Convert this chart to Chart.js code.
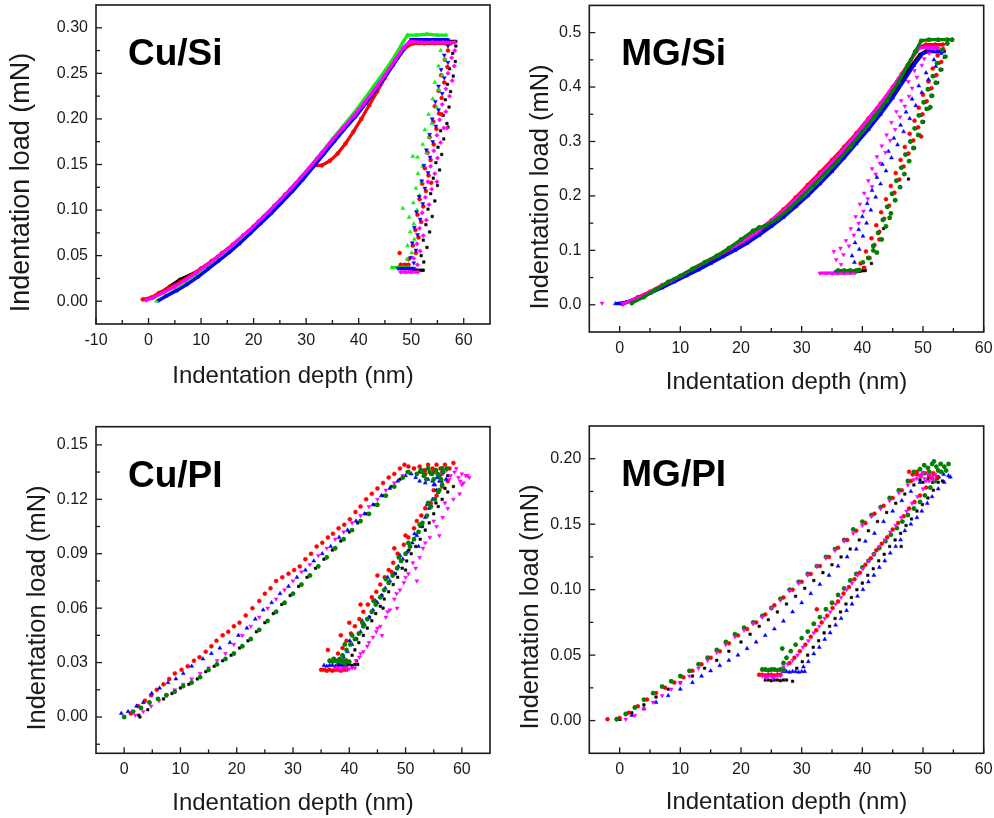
<!DOCTYPE html>
<html>
<head>
<meta charset="utf-8">
<script src="https://cdn.jsdelivr.net/npm/chart.js@4.4.1/dist/chart.umd.min.js"></script>
<style>
body { margin: 0; background: #fff; width: 994px; height: 818px; position: relative; overflow: hidden; }
canvas { position: absolute; }
</style>
</head>
<body>
<canvas id="c1" width="497" height="409" style="left:0;top:0"></canvas>
<canvas id="c2" width="497" height="409" style="left:497px;top:0"></canvas>
<canvas id="c3" width="497" height="409" style="left:0;top:409px"></canvas>
<canvas id="c4" width="497" height="409" style="left:497px;top:409px"></canvas>
<script>
// ---- Cu/Si ----
var cuSiXTicks = [-10, 0, 10, 20, 30, 40, 50, 60];
var cuSiYTicks = [0, 0.05, 0.10, 0.15, 0.20, 0.25, 0.30];

var cuSiMagentaLoad = [[-0.5,0.001],[1,0.004],[3,0.01],[5,0.016],[7,0.023],[9,0.031],[11,0.039],[13,0.048],[15,0.057],[17,0.067],[19,0.077],[21,0.088],[23,0.099],[25,0.111],[27,0.123],[29,0.136],[31,0.149],[33,0.163],[35,0.177],[37,0.19],[39,0.203],[41,0.217],[43,0.232],[45,0.248],[47,0.265],[48.5,0.278],[49.8,0.285],[52,0.284],[54,0.284],[56,0.284],[58.3,0.284]];
var cuSiBlackLoad = [[0.5,0.003],[2,0.008],[4,0.016],[6,0.024],[8,0.029],[10,0.035],[12,0.043],[14,0.052],[16,0.061],[18,0.071],[20,0.081],[22,0.092],[24,0.104],[26,0.116],[28,0.129],[30,0.142],[32,0.156],[34,0.17],[36,0.184],[38,0.197],[40,0.21],[42,0.225],[44,0.24],[46,0.256],[48,0.272],[50,0.285],[52,0.285],[54,0.285],[56,0.285],[58.5,0.285]];
var cuSiGreenLoad = [[1.5,0],[3,0.005],[5,0.012],[7,0.019],[9,0.027],[11,0.036],[13,0.045],[15,0.055],[17,0.065],[19,0.075],[21,0.086],[23,0.097],[25,0.109],[27,0.122],[29,0.135],[31,0.149],[33,0.163],[35,0.178],[37,0.192],[39,0.206],[41,0.221],[43,0.237],[45,0.253],[47,0.27],[48.5,0.285],[49.3,0.292],[51,0.292],[53,0.293],[55,0.292],[56.7,0.292]];
var cuSiBlueLoad = [[2,0.001],[3.5,0.006],[5.5,0.012],[7.5,0.019],[9.5,0.027],[11.5,0.036],[13.5,0.045],[15.5,0.054],[17.5,0.064],[19.5,0.075],[21.5,0.086],[23.5,0.097],[25.5,0.109],[27.5,0.121],[29.5,0.134],[31.5,0.148],[33.5,0.162],[35.5,0.176],[37.5,0.19],[39.5,0.203],[41.5,0.218],[43.5,0.234],[45.5,0.25],[47.5,0.267],[49,0.28],[50,0.287],[52,0.287],[54,0.287],[55.5,0.287],[57,0.287]];
var cuSiRedLoad = [[-1.1,0.002],[0.5,0.004],[2,0.009],[4,0.015],[6,0.021],[8,0.028],[10,0.036],[12,0.044],[14,0.053],[16,0.062],[18,0.072],[20,0.082],[22,0.093],[24,0.105],[26,0.117],[28,0.129],[30,0.141],[31.5,0.149],[33,0.149],[34.5,0.154],[36,0.162],[37.5,0.173],[39,0.186],[40.5,0.2],[42,0.215],[43.5,0.23],[45,0.245],[46.5,0.259],[48,0.272],[49.3,0.28],[50.5,0.283],[52.5,0.283],[54.5,0.283],[56.5,0.283],[57.5,0.283]];

var cuSiGreenUnload = [[56.5,0.285],[55.6,0.275],[56.4,0.265],[55.2,0.258],[55.9,0.248],[54.5,0.24],[55.3,0.232],[54.1,0.222],[54.8,0.213],[53.3,0.205],[53.9,0.195],[52.6,0.188],[53.4,0.18],[52.2,0.172],[52.9,0.163],[51.2,0.158],[52.2,0.148],[51.3,0.14],[52,0.131],[50.9,0.124],[51.6,0.116],[50.4,0.108],[51.1,0.1],[49.6,0.092],[50.5,0.085],[49.8,0.076],[50.6,0.068],[49.3,0.061],[50.1,0.053],[49.2,0.046],[48.4,0.102],[50.3,0.159]];
var cuSiBlueUnload = [[57,0.28],[56.3,0.27],[57,0.262],[55.7,0.254],[56.3,0.245],[55.2,0.236],[55.9,0.228],[54.6,0.219],[55.2,0.21],[54,0.2],[54.7,0.192],[53.5,0.183],[54.1,0.175],[52.9,0.166],[53.6,0.158],[52.4,0.149],[53.2,0.141],[52,0.132],[52.6,0.124],[51.5,0.115],[52.2,0.107],[51,0.098],[51.7,0.09],[50.6,0.081],[51.2,0.073],[50.2,0.064],[50.9,0.056],[49.9,0.048],[50.5,0.042]];
var cuSiRedUnload = [[57,0.275],[56.4,0.265],[56.9,0.257],[55.7,0.248],[56.3,0.24],[55.2,0.231],[55.8,0.223],[54.5,0.214],[55.3,0.206],[54.2,0.197],[54.8,0.189],[53.5,0.18],[54.3,0.172],[53.1,0.163],[53.7,0.155],[52.6,0.146],[53.3,0.138],[52.1,0.129],[52.8,0.121],[51.6,0.112],[52.3,0.104],[51.2,0.095],[51.9,0.087],[50.8,0.078],[51.4,0.07],[50.3,0.061],[50.9,0.053],[49.5,0.046],[47.8,0.053],[55.8,0.205],[53.8,0.13]];
var cuSiMagentaUnload = [[58.3,0.275],[57.7,0.267],[58.2,0.258],[57,0.25],[57.8,0.242],[56.6,0.233],[57.3,0.225],[55.9,0.216],[56.6,0.208],[55.4,0.199],[56.2,0.19],[54.9,0.182],[55.6,0.174],[54.3,0.165],[55,0.157],[53.7,0.148],[54.5,0.14],[53.2,0.131],[53.9,0.123],[52.7,0.114],[53.4,0.106],[52.1,0.097],[52.9,0.089],[51.6,0.08],[52.3,0.072],[51.1,0.063],[51.7,0.055],[50.5,0.047],[51.2,0.04],[54.9,0.131],[56.8,0.19]];
var cuSiBlackUnload = [[58.5,0.28],[57.9,0.272],[58.4,0.263],[57.3,0.255],[58,0.247],[56.9,0.238],[57.5,0.23],[56.5,0.221],[57.2,0.213],[56.1,0.204],[56.8,0.195],[55.6,0.187],[57,0.191],[56.2,0.178],[55.1,0.169],[55.8,0.161],[54.7,0.152],[55.4,0.144],[54.2,0.135],[55,0.127],[53.7,0.118],[54.5,0.11],[53.2,0.101],[54,0.093],[52.8,0.084],[53.5,0.076],[52.3,0.067],[53,0.059],[51.9,0.05],[52.4,0.043]];

var cuSiGreenRest = [[46.3,0.037],[47.5,0.037],[48.5,0.037],[49.5,0.037]];
var cuSiBlueRest = [[47.5,0.036],[48.5,0.036],[49.5,0.036],[50.5,0.036]];
var cuSiRedRest = [[48,0.04],[48.8,0.04],[49.5,0.04]];
var cuSiMagentaRest = [[48,0.032],[49,0.032],[50,0.032],[51.3,0.032]];
var cuSiBlackRest = [[50,0.034],[51,0.034],[52.3,0.034]];

// ---- MG/Si ----
var mgSiXTicks = [0, 10, 20, 30, 40, 50, 60];
var mgSiYTicks = [0, 0.1, 0.2, 0.3, 0.4, 0.5];

var mgSiMagentaLoad = [[0.5,0.002],[2.5,0.01],[4.5,0.02],[6.5,0.032],[8.5,0.044],[10.5,0.056],[12.5,0.069],[14.5,0.081],[16.5,0.093],[18.5,0.105],[20.5,0.118],[22.5,0.133],[24.5,0.15],[26.5,0.168],[28.5,0.188],[30.5,0.21],[32.5,0.233],[34.5,0.256],[36.5,0.28],[38.5,0.306],[40.5,0.334],[42.5,0.362],[44.5,0.392],[46,0.416],[47.5,0.44],[48.5,0.46],[49.3,0.472],[50.5,0.473],[51.5,0.473],[52.5,0.472]];
var mgSiGreenLoad = [[2,0.003],[4,0.014],[6,0.028],[8,0.042],[10,0.053],[12,0.066],[14,0.078],[16,0.09],[18,0.104],[20,0.12],[22,0.136],[23,0.142],[24,0.145],[26,0.158],[28,0.177],[30,0.198],[32,0.22],[34,0.242],[36,0.265],[38,0.29],[40,0.318],[42,0.346],[44,0.375],[46,0.41],[47.5,0.44],[48.7,0.465],[49.7,0.485],[51,0.487],[52.5,0.487],[54,0.487],[54.8,0.487]];
var mgSiBlueLoad = [[-0.7,0.002],[1,0.004],[3,0.012],[5,0.021],[7,0.031],[9,0.042],[11,0.053],[13,0.064],[15,0.076],[17,0.088],[19,0.1],[21,0.113],[23,0.128],[25,0.144],[27,0.161],[29,0.18],[31,0.2],[33,0.222],[35,0.245],[37,0.27],[39,0.296],[41,0.322],[43,0.35],[45,0.38],[47,0.414],[48.5,0.44],[50,0.462],[51,0.465],[52,0.465],[53.3,0.465]];
var mgSiRedLoad = [[0.5,0.001],[3,0.014],[5,0.024],[7,0.036],[9,0.047],[11,0.059],[13,0.071],[15,0.083],[17,0.095],[19,0.108],[21,0.121],[23,0.137],[25,0.155],[27,0.175],[29,0.197],[31,0.22],[33,0.243],[35,0.266],[37,0.29],[39,0.315],[41,0.342],[43,0.37],[45,0.4],[46.5,0.424],[48,0.45],[49.5,0.474],[50.5,0.478],[52,0.478],[53.3,0.478]];
var mgSiBlackLoad = [[0,0.002],[2,0.008],[4,0.017],[6,0.028],[8,0.04],[10,0.052],[12,0.064],[14,0.076],[16,0.088],[18,0.1],[20,0.113],[22,0.127],[24,0.143],[26,0.16],[28,0.179],[30,0.2],[32,0.222],[34,0.245],[36,0.268],[38,0.293],[40,0.319],[42,0.346],[44,0.374],[46,0.404],[48,0.438],[49.5,0.46],[50.5,0.466],[52,0.466],[53.5,0.466]];

var mgSiMagentaUnload = [[52,0.47],[51,0.462],[50.2,0.452],[49.8,0.44],[48.6,0.43],[49,0.418],[47.6,0.41],[48.2,0.398],[47.7,0.383],[46.4,0.375],[47,0.365],[45.6,0.355],[46.2,0.345],[44.8,0.335],[45.4,0.322],[44,0.312],[44.6,0.302],[43.2,0.292],[43.8,0.28],[42.4,0.272],[42.9,0.26],[41.6,0.25],[42.2,0.24],[41,0.228],[41.6,0.217],[40.3,0.205],[40.9,0.195],[39.6,0.185],[40.2,0.172],[38.9,0.162],[39.4,0.15],[38.1,0.14],[38.6,0.128],[37.3,0.118],[37.8,0.108],[36.4,0.104],[35.3,0.098],[36.9,0.092],[35.7,0.083],[36.5,0.074],[-2.9,0.003]];
var mgSiBlueUnload = [[53,0.462],[51.8,0.45],[52.1,0.438],[50.5,0.426],[50.9,0.414],[49.3,0.402],[49.8,0.39],[48.2,0.378],[48.8,0.366],[47.2,0.354],[47.8,0.342],[46.3,0.33],[46.8,0.318],[45.2,0.306],[45.8,0.294],[44.3,0.282],[44.8,0.27],[43.3,0.258],[43.9,0.246],[42.4,0.234],[43,0.222],[41.6,0.21],[42.2,0.198],[40.8,0.186],[41.4,0.174],[40,0.162],[40.7,0.15],[39.4,0.138],[40.1,0.126],[38.8,0.114],[39.5,0.102],[38.3,0.09],[38.7,0.078]];
var mgSiRedUnload = [[53.3,0.47],[52.4,0.458],[53,0.446],[51.6,0.434],[52.2,0.422],[50.9,0.41],[51.4,0.398],[50,0.386],[50.6,0.374],[49.3,0.362],[49.9,0.35],[48.6,0.338],[49.2,0.326],[47.8,0.314],[48.4,0.302],[47,0.29],[47.6,0.278],[46.3,0.266],[46.8,0.254],[45.5,0.242],[46.1,0.23],[44.7,0.218],[45.3,0.206],[43.9,0.194],[44.4,0.182],[43.1,0.17],[43.6,0.158],[42.3,0.146],[42.8,0.134],[41.5,0.122],[42,0.11],[40.6,0.098],[41.2,0.086],[39.7,0.076],[40.3,0.068],[49.7,0.309],[42.8,0.12]];
var mgSiBlackUnload = [[53.5,0.455],[52.6,0.444],[53.1,0.432],[51.8,0.42],[52.4,0.408],[51,0.396],[51.6,0.384],[50.3,0.372],[50.9,0.36],[49.6,0.348],[50.1,0.336],[48.8,0.324],[49.4,0.312],[48,0.3],[48.6,0.288],[47.3,0.276],[47.8,0.264],[46.5,0.252],[47,0.24],[45.7,0.228],[46.3,0.216],[44.9,0.204],[45.5,0.192],[44.1,0.18],[44.7,0.168],[43.3,0.156],[43.9,0.144],[42.6,0.132],[43.1,0.12],[41.8,0.108],[42.3,0.096],[40.9,0.086],[41.5,0.076],[40.2,0.068],[47.6,0.231],[43.5,0.14]];
var mgSiGreenUnload = [[54,0.48],[53.1,0.468],[53.7,0.456],[52.3,0.444],[52.9,0.432],[51.6,0.42],[52.1,0.408],[50.8,0.396],[51.4,0.384],[50.1,0.372],[50.6,0.36],[49.3,0.348],[49.9,0.336],[48.6,0.324],[49.2,0.312],[47.9,0.3],[48.4,0.288],[47.1,0.276],[47.7,0.264],[46.4,0.252],[46.9,0.24],[45.6,0.228],[46.2,0.216],[44.9,0.204],[45.4,0.192],[44.1,0.18],[44.7,0.168],[43.4,0.156],[43.9,0.144],[42.6,0.132],[43.2,0.12],[41.8,0.108],[42.4,0.096],[41,0.086],[40.1,0.078],[51.2,0.363],[44.5,0.16],[41.8,0.1]];

var mgSiMagentaRest = [[33,0.058],[34,0.058],[35,0.058],[36,0.058],[37,0.058],[38,0.058],[38.8,0.059]];
var mgSiBlueRest = [[35.5,0.06],[36.5,0.06],[37.5,0.06],[38.5,0.061]];
var mgSiRedRest = [[36.5,0.06],[37.5,0.06],[38.5,0.06],[39,0.061]];
var mgSiBlackRest = [[37.5,0.062],[38.5,0.062],[39.5,0.062],[40.5,0.063]];
var mgSiGreenRest = [[36,0.063],[37,0.063],[38,0.063],[39,0.063],[39.5,0.064]];

// ---- Cu/PI ----
var cuPiXTicks = [0, 10, 20, 30, 40, 50, 60];
var cuPiYTicks = [0, 0.03, 0.06, 0.09, 0.12, 0.15];

var cuPiRedLoad = [[1.2,0.002],[2.5,0.006],[3.7,0.009],[4.8,0.012],[5.8,0.015],[7,0.018],[8,0.021],[9,0.024],[10.2,0.026],[11.3,0.028],[12.4,0.031],[13.4,0.033],[14.5,0.036],[15.5,0.039],[16.4,0.042],[17.5,0.045],[18.5,0.047],[19.5,0.05],[20.5,0.052],[21.6,0.056],[22.8,0.06],[24,0.064],[25,0.068],[26,0.071],[27,0.075],[28.1,0.077],[29.2,0.079],[30.2,0.081],[31.2,0.083],[32.2,0.087],[33.2,0.09],[34.2,0.094],[35.2,0.096],[36.2,0.099],[37.1,0.101],[38.1,0.104],[39.1,0.106],[40.1,0.109],[41.1,0.113],[42,0.116],[43,0.12],[44,0.123],[45,0.126],[46,0.129],[47,0.132],[48,0.134],[49,0.137],[49.8,0.139]];
var cuPiBlueLoad = [[-0.5,0.002],[0.7,0.003],[2.2,0.006],[3.4,0.008],[4.9,0.013],[6.3,0.016],[7.8,0.019],[9.2,0.021],[10.5,0.024],[12,0.028],[14,0.032],[15.5,0.035],[17,0.038],[18.8,0.041],[20.3,0.045],[21.8,0.049],[23.3,0.054],[24.7,0.059],[26.2,0.063],[27.7,0.068],[29.2,0.072],[30.7,0.077],[32.2,0.081],[33.7,0.086],[35.2,0.09],[36.7,0.094],[38.2,0.099],[39.7,0.103],[41.2,0.108],[42.7,0.112],[44.2,0.117],[45.7,0.122],[47.2,0.126],[48.6,0.13],[50,0.133]];
var cuPiMagentaLoad = [[2,0.001],[3.4,0.003],[4.8,0.006],[6.2,0.009],[7.6,0.012],[9,0.015],[10.5,0.018],[12,0.021],[13.5,0.024],[15,0.027],[16.5,0.031],[18,0.035],[19.5,0.04],[21,0.045],[22.5,0.05],[24,0.055],[25.5,0.06],[27,0.065],[28.5,0.07],[30,0.075],[31.5,0.08],[33,0.084],[34.5,0.089],[36,0.093],[37.5,0.098],[39,0.102],[40.5,0.107],[42,0.111],[43.5,0.116],[45,0.12],[46.5,0.125],[48,0.129],[49.5,0.133]];
var cuPiGreenLoad = [[0,0],[1.6,0.003],[3,0.005],[4.5,0.008],[6,0.01],[7.5,0.012],[9,0.014],[10.5,0.017],[12,0.019],[13.5,0.022],[15,0.026],[16.5,0.029],[18,0.032],[19.5,0.035],[21,0.039],[22.5,0.043],[24,0.048],[25.5,0.053],[27,0.058],[28.5,0.063],[30,0.068],[31.5,0.073],[33,0.078],[34.5,0.083],[36,0.088],[37.5,0.093],[39,0.098],[40.5,0.103],[42,0.108],[43.5,0.112],[45,0.117],[46.5,0.122],[48,0.127],[49.5,0.132],[50.5,0.135]];
var cuPiBlackLoad = [[2.6,0.001],[2.8,0],[4.2,0.004],[7,0.01],[8.5,0.013],[10,0.016],[11.5,0.018],[13,0.021],[14.5,0.025],[16,0.028],[17.5,0.031],[19,0.034],[20.5,0.038],[22,0.042],[23.5,0.047],[25,0.052],[26.5,0.057],[28,0.062],[29.5,0.067],[31,0.072],[32.5,0.077],[34,0.082],[35.5,0.087],[37,0.092],[38.5,0.097],[40,0.102],[41.5,0.107],[43,0.112],[44.5,0.117],[46,0.122],[47.5,0.127],[49,0.131],[50.3,0.135]];

var cuPiRedHold = [[50.5,0.138],[51.5,0.137],[52.5,0.138],[53.3,0.136],[54,0.139],[54.8,0.137],[55.5,0.139],[56.2,0.137],[57,0.139],[57.8,0.137],[58.5,0.14],[56.5,0.135],[55,0.135],[53.5,0.134]];
var cuPiGreenHold = [[52,0.134],[52.7,0.136],[53.3,0.133],[54,0.137],[54.7,0.134],[55.3,0.136],[56,0.133],[56.7,0.135],[57.3,0.137],[53.7,0.131],[55,0.131],[56.3,0.131],[54.3,0.135],[55.7,0.134],[53,0.135],[56.5,0.137]];
var cuPiBlueHold = [[51,0.134],[51.8,0.132],[52.5,0.13],[53.2,0.133],[54,0.131],[54.8,0.13],[55.6,0.132],[56.4,0.13],[57.2,0.131],[53.5,0.129],[55,0.128]];
var cuPiMagentaHold = [[56.5,0.134],[57.3,0.136],[58,0.133],[58.7,0.135],[59.4,0.132],[60,0.134],[60.7,0.133],[61.3,0.132],[59,0.137],[57.8,0.131],[60.3,0.129],[59.7,0.13]];
var cuPiBlackHold = [[51.5,0.137],[52.5,0.135],[53.5,0.136],[54.5,0.134],[55.5,0.136],[56.5,0.134],[57.5,0.133]];

var cuPiRedUnload = [[57.5,0.13],[56.5,0.127],[55.5,0.122],[54.5,0.118],[53.5,0.115],[52.8,0.111],[51.5,0.104],[50.5,0.099],[49.7,0.095],[48.6,0.09],[47.8,0.085],[47,0.081],[46.3,0.077],[45.5,0.073],[44.8,0.069],[44,0.066],[43.3,0.062],[42.5,0.058],[41.8,0.054],[41,0.05],[40.3,0.046],[39.5,0.042],[38.8,0.038],[38,0.035],[37.3,0.032],[36.2,0.037],
    [55,0.125],[52,0.108],[50,0.1],[48,0.093],[45,0.078],[42,0.062],[40,0.052],[38.5,0.045],[44.5,0.064],[47.5,0.08]];
var cuPiGreenUnload = [[56.5,0.128],[55.8,0.124],[55.2,0.12],[54.5,0.116],[53.8,0.111],[53,0.107],[52.3,0.102],[51.5,0.098],[50.8,0.094],[50,0.09],[49.2,0.086],[48.5,0.082],[47.7,0.078],[47,0.074],[46.2,0.07],[45.5,0.066],[44.7,0.062],[44,0.058],[43.2,0.054],[42.5,0.05],[41.7,0.046],[41,0.043],[40.2,0.04],[39.5,0.037],[38.8,0.034],
    [56,0.125],[54,0.118],[52.5,0.106],[50.5,0.096],[48.8,0.088],[46.5,0.076],[44.3,0.064],[42.3,0.052],[40.5,0.045],[39.2,0.04]];
var cuPiBlueUnload = [[56,0.13],[55.5,0.125],[54.8,0.12],[54.2,0.115],[53.5,0.11],[52.7,0.105],[52,0.1],[51.2,0.096],[50.3,0.091],[49.5,0.087],[48.7,0.083],[48,0.079],[47.2,0.075],[46.4,0.071],[45.7,0.067],[45,0.063],[44.2,0.059],[43.5,0.055],[42.7,0.051],[42,0.047],[41.2,0.043],[40.5,0.04],[39.7,0.036],[39,0.033],[38.5,0.031],
    [55.2,0.128],[53.8,0.117],[51.6,0.101],[49,0.089],[46.8,0.077],[44.6,0.064],[42.3,0.053],[40.1,0.042],[52.3,0.094]];
var cuPiBlackUnload = [[58.5,0.127],[57.5,0.124],[56.5,0.12],[55.8,0.116],[55,0.112],[54.2,0.107],[53.5,0.103],[52.6,0.098],[51.8,0.094],[51,0.09],[50.2,0.086],[49.4,0.082],[48.6,0.077],[47.8,0.073],[47,0.069],[46.2,0.065],[45.5,0.061],[44.7,0.057],[44,0.053],[43.2,0.049],[42.5,0.045],[41.7,0.041],[41,0.037],[40.5,0.034],[41.3,0.031],
    [57,0.126],[55.4,0.118],[53,0.105],[50.6,0.092],[48.2,0.079],[45.8,0.067],[43.6,0.055],[41.3,0.043],[50,0.081],[46,0.06]];
var cuPiMagentaUnload = [[61,0.133],[59.6,0.123],[58.5,0.12],[57.5,0.115],[56.6,0.11],[55.5,0.105],[54.3,0.099],[53.1,0.093],[52.5,0.088],[51.3,0.085],[50.5,0.079],[49.7,0.074],[49,0.07],[48,0.065],[47.2,0.059],[46.5,0.055],[45.5,0.05],[44.8,0.047],[44.2,0.044],[43.2,0.039],[42.5,0.036],[41.8,0.033],[41.2,0.031],
    [60,0.128],[57,0.118],[55,0.108],[53.5,0.096],[51.8,0.082],[50,0.077],[48.4,0.068],[46.8,0.058],[45,0.049],[43.5,0.041],[42,0.035],[56,0.1],[52,0.075],[48.5,0.06],[45.8,0.045]];

var cuPiRedRest = [[35,0.026],[35.5,0.026],[36,0.0255],[36.5,0.026],[37,0.0255],[37.5,0.026],[38,0.026],[38.5,0.0255],[39,0.026],[39.5,0.026]];
var cuPiGreenRest = [[36.5,0.031],[37,0.0305],[37.5,0.031],[38,0.031],[38.5,0.0305],[39,0.031],[39.5,0.031],[40,0.0305],[37.2,0.032],[38.3,0.032],[39.2,0.0295]];
var cuPiBlueRest = [[35.5,0.0285],[36,0.028],[36.5,0.0285],[37,0.0285],[37.5,0.028],[38,0.0285],[38.5,0.0285],[39,0.028],[39.5,0.0285]];
var cuPiMagentaRest = [[37.5,0.027],[38,0.027],[38.5,0.0265],[39,0.027],[39.5,0.027],[40,0.0265],[40.5,0.027],[41,0.027]];
var cuPiBlackRest = [[38,0.029],[38.5,0.029],[39,0.0285],[39.5,0.029],[40,0.029],[40.5,0.0285],[41,0.029],[41.5,0.029]];

// ---- MG/PI ----
var mgPiXTicks = [0, 10, 20, 30, 40, 50, 60];
var mgPiYTicks = [0, 0.05, 0.10, 0.15, 0.20];

var mgPiGreenLoad = [[-0.5,0.001],[1,0.005],[2.5,0.01],[4,0.016],[5.5,0.021],[7,0.026],[8.5,0.03],[10,0.034],[11.5,0.038],[13,0.043],[14.5,0.048],[16,0.054],[17.5,0.06],[19,0.066],[20.5,0.071],[22,0.075],[23.5,0.08],[25,0.086],[26.5,0.093],[28,0.1],[29.5,0.106],[31,0.112],[32.5,0.118],[34,0.125],[35.5,0.131],[37,0.138],[38.5,0.146],[40,0.152],[41.5,0.157],[43,0.163],[44.5,0.17],[46,0.176],[47.5,0.183],[48.5,0.19]];
var mgPiRedLoad = [[-2,0.001],[0,0.002],[1.5,0.006],[3,0.011],[4.5,0.016],[6,0.021],[7.5,0.025],[9,0.029],[10.5,0.033],[12,0.038],[13.5,0.043],[15,0.048],[16.5,0.053],[18,0.059],[19.5,0.065],[21,0.07],[22.5,0.075],[24,0.081],[25.5,0.088],[27,0.094],[28.5,0.1],[30,0.106],[31.5,0.112],[33,0.118],[34.5,0.125],[36,0.132],[37.5,0.138],[39,0.145],[40.5,0.151],[42,0.158],[43.5,0.164],[45,0.17],[46.5,0.176],[48,0.183],[49,0.188]];
var mgPiMagentaLoad = [[1,0.001],[2.5,0.004],[4,0.009],[5.5,0.014],[7,0.019],[8.5,0.024],[10,0.029],[11.5,0.034],[13,0.04],[14.5,0.046],[16,0.052],[17.5,0.058],[19,0.064],[20.5,0.069],[22,0.074],[23.5,0.079],[25,0.086],[26.5,0.092],[28,0.099],[29.5,0.105],[31,0.111],[32.5,0.118],[34,0.124],[35.5,0.13],[37,0.137],[38.5,0.143],[40,0.149],[41.5,0.156],[43,0.162],[44.5,0.168],[46,0.174],[47.5,0.18],[48.5,0.184]];
var mgPiBlackLoad = [[0,0.001],[2,0.006],[4,0.012],[6,0.018],[8,0.024],[10,0.029],[12,0.034],[14,0.04],[16,0.046],[18,0.053],[20,0.06],[21.5,0.066],[23,0.072],[24.5,0.077],[26,0.083],[27.5,0.089],[29,0.095],[30.5,0.101],[32,0.107],[33.5,0.113],[35,0.119],[36.5,0.125],[38,0.131],[39.5,0.138],[41,0.145],[42.5,0.152],[44,0.159],[45.5,0.166],[47,0.173],[48.5,0.18],[49.5,0.184]];
var mgPiBlueLoad = [[0,0.001],[2,0.004],[4,0.009],[6,0.014],[8,0.019],[10,0.024],[12,0.029],[13.5,0.034],[15,0.038],[16.5,0.042],[18,0.046],[19.5,0.05],[21,0.055],[22.5,0.06],[24,0.065],[25.5,0.07],[27,0.076],[28.5,0.083],[30,0.09],[31.5,0.097],[33,0.104],[34.5,0.111],[36,0.118],[37.5,0.125],[39,0.131],[40.5,0.137],[42,0.143],[43.5,0.152],[45,0.16],[46.5,0.168],[48,0.175],[49.5,0.182],[51,0.186]];

var mgPiGreenHold = [[49.5,0.192],[50.2,0.195],[50.8,0.193],[51.5,0.196],[52.2,0.194],[52.9,0.196],[53.5,0.194],[54.2,0.196],[51,0.19],[52.5,0.191],[53.8,0.191],[50,0.189],[51.8,0.198]];
var mgPiRedHold = [[48.3,0.188],[49,0.19],[49.6,0.187],[50.3,0.189],[51,0.187],[51.7,0.189],[52.3,0.186],[47.7,0.19]];
var mgPiMagentaHold = [[49,0.185],[49.6,0.187],[50.2,0.185],[50.8,0.188],[51.4,0.186],[52,0.188],[50.5,0.183],[51.8,0.184],[50,0.189]];
var mgPiBlackHold = [[50,0.182],[50.8,0.184],[51.6,0.182],[52.4,0.185],[53.2,0.183]];
var mgPiBlueHold = [[51,0.187],[51.8,0.188],[52.6,0.186],[53.4,0.188],[54.2,0.187],[54.5,0.186]];

var mgPiGreenUnload = [[53,0.19],[52,0.183],[51.2,0.178],[50.3,0.172],[49.5,0.167],[48.5,0.162],[47.5,0.157],[46.6,0.152],[45.7,0.147],[44.7,0.142],[43.8,0.137],[42.8,0.132],[41.9,0.127],[41,0.122],[40,0.117],[39,0.112],[38,0.107],[37,0.101],[36,0.096],[35,0.09],[34,0.085],[33,0.079],[32,0.074],[31,0.068],[30,0.063],[29,0.058],[28.2,0.053],[27.5,0.048],[27,0.044],[26.8,0.055]];
var mgPiRedUnload = [[51.5,0.185],[50.5,0.178],[49.5,0.172],[48.6,0.167],[47.7,0.162],[46.8,0.156],[45.9,0.151],[45,0.146],[44.1,0.14],[43.2,0.135],[42.3,0.13],[41.4,0.124],[40.5,0.119],[39.6,0.113],[38.7,0.108],[37.8,0.102],[36.9,0.097],[36,0.091],[35.1,0.086],[34.2,0.08],[33.3,0.075],[32.4,0.069],[31.5,0.064],[30.6,0.058],[29.7,0.053],[28.8,0.048],[28,0.044],[32.5,0.085]];
var mgPiMagentaUnload = [[51,0.183],[50,0.177],[49.1,0.171],[48.2,0.166],[47.3,0.16],[46.4,0.155],[45.5,0.149],[44.6,0.144],[43.7,0.138],[42.8,0.133],[41.9,0.127],[41,0.122],[40.1,0.116],[39.2,0.111],[38.3,0.105],[37.4,0.1],[36.5,0.094],[35.6,0.089],[34.7,0.083],[33.8,0.078],[32.9,0.072],[32,0.067],[31.1,0.061],[30.2,0.056],[29.3,0.05],[28.5,0.046],[27.7,0.043],[27,0.041]];
var mgPiBlackUnload = [[52.5,0.182],[51.7,0.176],[50.8,0.17],[49.9,0.165],[49,0.16],[48.1,0.154],[47.2,0.149],[46.3,0.143],[45.4,0.138],[46.4,0.133],[44.5,0.133],[43.6,0.127],[42.7,0.122],[41.8,0.116],[40.9,0.111],[40,0.105],[39.1,0.1],[38.2,0.094],[37.3,0.089],[36.4,0.083],[35.5,0.078],[34.6,0.072],[33.7,0.067],[32.8,0.061],[31.9,0.056],[31,0.05],[30.1,0.045],[29.2,0.04]];
var mgPiBlueUnload = [[53.5,0.182],[52.5,0.177],[51.5,0.171],[50.7,0.166],[49.8,0.16],[49,0.155],[48,0.15],[47,0.145],[46.3,0.138],[45.5,0.133],[44.6,0.128],[43.7,0.122],[42.8,0.117],[41.9,0.111],[41,0.106],[40.1,0.1],[39.2,0.095],[38.3,0.089],[37.4,0.084],[36.5,0.078],[35.6,0.073],[34.7,0.067],[33.8,0.062],[32.9,0.056],[32,0.051],[31.1,0.045],[30.3,0.041]];

var mgPiGreenRest = [[23.5,0.039],[24,0.039],[24.5,0.0385],[25,0.039],[25.5,0.039],[26,0.0385],[26.5,0.039],[27,0.039]];
var mgPiRedRest = [[23,0.035],[23.5,0.035],[24,0.0345],[24.5,0.035],[25,0.035],[25.5,0.0345],[26,0.035],[26.5,0.035]];
var mgPiMagentaRest = [[23.5,0.034],[24,0.0335],[24.5,0.034],[25,0.034],[25.5,0.0335],[26,0.034],[26.5,0.034],[24.2,0.0325],[25.2,0.0325]];
var mgPiBlackRest = [[24,0.031],[24.5,0.031],[25,0.0305],[25.5,0.031],[26,0.031],[26.5,0.0305],[27,0.031],[27.5,0.031],[28.5,0.03]];
var mgPiBlueRest = [[27,0.0375],[27.5,0.0375],[28,0.037],[28.5,0.0375],[29,0.0375],[29.5,0.037],[30,0.0375],[30.5,0.0375]];

var FONT = '"Liberation Sans", Arial, sans-serif';
var INK = '#1a1a1a';

// box, inward ticks, panel label and y title
var frame = {
    id: 'frame',
    afterDraw: function (chart, args, o) {
        var ctx = chart.ctx, a = chart.chartArea;
        var xs = chart.scales.x, ys = chart.scales.y;
        ctx.save();
        ctx.strokeStyle = INK;
        ctx.lineWidth = 1.3;
        function minors(vals, min, max) {
            var step = vals[1] - vals[0], out = [vals[0] - step / 2];
            for (var i = 0; i < vals.length; i++) out.push(vals[i] + step / 2);
            return out.filter(function (v) { return v > min + 1e-9 && v < max - 1e-9; });
        }
        function xmark(vals, len) {
            vals.forEach(function (v) {
                var p = xs.getPixelForValue(v);
                ctx.beginPath(); ctx.moveTo(p, a.bottom); ctx.lineTo(p, a.bottom - len); ctx.stroke();
            });
        }
        function ymark(vals, len) {
            vals.forEach(function (v) {
                var p = ys.getPixelForValue(v);
                ctx.beginPath(); ctx.moveTo(a.left, p); ctx.lineTo(a.left + len, p); ctx.stroke();
            });
        }
        xmark(o.xTicks, 6);
        xmark(minors(o.xTicks, xs.min, xs.max), 4);
        ymark(o.yTicks, 6);
        ymark(minors(o.yTicks, ys.min, ys.max), 4);
        ctx.lineWidth = 1.6;
        ctx.strokeRect(a.left, a.top, a.right - a.left, a.bottom - a.top);

        ctx.fillStyle = '#000';
        ctx.font = 'bold 37px ' + FONT;
        ctx.textBaseline = 'alphabetic';
        ctx.textAlign = 'left';
        ctx.fillText(o.label, a.left + 32, a.top + 60);

        ctx.fillStyle = INK;
        ctx.font = o.ySize + 'px ' + FONT;
        ctx.textAlign = 'center';
        ctx.textBaseline = 'middle';
        ctx.translate(o.yX, o.yY);
        ctx.rotate(-Math.PI / 2);
        ctx.fillText('Indentation load (mN)', 0, 0);
        ctx.restore();
    }
};

function dataset(points, s, line) {
    return {
        data: points.map(function (p) { return {x: p[0], y: p[1]}; }),
        showLine: line,
        borderColor: s.color,
        backgroundColor: s.color,
        borderWidth: line ? 3.2 : 0,
        pointRadius: s.r,
        pointStyle: s.style,
        pointRotation: s.rot || 0,
        pointBorderWidth: s.bw,
        pointBorderColor: s.color,
        pointBackgroundColor: s.color,
        order: s.order
    };
}

function makeChart(id, p) {
    var sets = [];
    p.series.forEach(function (s) {
        sets.push(dataset(s.load, s, p.lined));
        if (s.hold) sets.push(dataset(s.hold, s, false));
        sets.push(dataset(s.unload, s, false));
        sets.push(dataset(s.rest, s, p.lined));
    });
    return new Chart(document.getElementById(id), {
        type: 'scatter',
        data: {datasets: sets},
        options: {
            responsive: false,
            animation: false,
            events: [],
            layout: {padding: {left: 0, top: p.top, right: p.right, bottom: 0}},
            plugins: {
                legend: {display: false},
                tooltip: {enabled: false},
                frame: {label: p.label, xTicks: p.xTicks, yTicks: p.yTicks, yX: p.yX, yY: p.yY, ySize: p.ySize}
            },
            scales: {
                x: {
                    type: 'linear', min: p.xMin, max: p.xMax,
                    grid: {display: false, drawTicks: false}, border: {display: false},
                    afterBuildTicks: function (sc) { sc.ticks = p.xTicks.map(function (v) { return {value: v}; }); },
                    afterFit: function (sc) { sc.height = p.xH; sc.paddingLeft = 0; sc.paddingRight = 0; },
                    ticks: {
                        autoSkip: false, maxRotation: 0, padding: 6.5, color: INK,
                        font: {family: FONT, size: 16},
                        callback: function (v) { return String(v); }
                    },
                    title: {
                        display: true, text: 'Indentation depth (nm)', color: INK,
                        font: {family: FONT, size: 24}, padding: {top: 0, bottom: p.xTitlePad}
                    }
                },
                y: {
                    type: 'linear', min: p.yMin, max: p.yMax,
                    grid: {display: false, drawTicks: false}, border: {display: false},
                    afterBuildTicks: function (sc) { sc.ticks = p.yTicks.map(function (v) { return {value: v}; }); },
                    afterFit: function (sc) { sc.width = p.yW; sc.paddingTop = 0; sc.paddingBottom = 0; },
                    ticks: {
                        autoSkip: false, padding: 8, color: INK,
                        font: {family: FONT, size: 16},
                        callback: function (v) { return v.toFixed(p.yDec); }
                    }
                }
            }
        },
        plugins: [frame]
    });
}

var LIME = '#10ee10', DKGREEN = '#008000';

makeChart('c1', {
    label: 'Cu/Si', lined: true, top: 5, right: 7, yW: 96, xH: 85,
    xMin: -10, xMax: 65, yMin: -0.025, yMax: 0.325, yDec: 2,
    xTicks: cuSiXTicks, yTicks: cuSiYTicks, xTitlePad: 18.6,
    yX: 21.5, yY: 182.5, ySize: 27,
    series: [
        {color: '#ff00ff', style: 'rectRot', r: 2.2, bw: 0.5, order: 0, load: cuSiMagentaLoad, unload: cuSiMagentaUnload, rest: cuSiMagentaRest},
        {color: '#0000ff', style: 'triangle', rot: 180, r: 2.3, bw: 0.5, order: 1, load: cuSiBlueLoad, unload: cuSiBlueUnload, rest: cuSiBlueRest},
        {color: LIME, style: 'triangle', r: 2.3, bw: 0.5, order: 2, load: cuSiGreenLoad, unload: cuSiGreenUnload, rest: cuSiGreenRest},
        {color: '#ff0000', style: 'circle', r: 2, bw: 0.5, order: 3, load: cuSiRedLoad, unload: cuSiRedUnload, rest: cuSiRedRest},
        {color: '#000000', style: 'rect', r: 1.8, bw: 0.5, order: 4, load: cuSiBlackLoad, unload: cuSiBlackUnload, rest: cuSiBlackRest}
    ]
});

makeChart('c2', {
    label: 'MG/Si', lined: true, top: 5, right: 10.3, yW: 92.3, xH: 77,
    xMin: -5, xMax: 60, yMin: -0.05, yMax: 0.55, yDec: 1,
    xTicks: mgSiXTicks, yTicks: mgSiYTicks, xTitlePad: 12.6,
    yX: 43.5, yY: 187, ySize: 25.5,
    series: [
        {color: '#ff00ff', style: 'triangle', rot: 180, r: 2.3, bw: 0.5, order: 1, load: mgSiMagentaLoad, unload: mgSiMagentaUnload, rest: mgSiMagentaRest},
        {color: DKGREEN, style: 'star', r: 2.4, bw: 1.4, order: 0, load: mgSiGreenLoad, unload: mgSiGreenUnload, rest: mgSiGreenRest},
        {color: '#0000ff', style: 'triangle', r: 2.3, bw: 0.5, order: 2, load: mgSiBlueLoad, unload: mgSiBlueUnload, rest: mgSiBlueRest},
        {color: '#ff0000', style: 'circle', r: 2, bw: 0.5, order: 3, load: mgSiRedLoad, unload: mgSiRedUnload, rest: mgSiRedRest},
        {color: '#000000', style: 'rect', r: 1.8, bw: 0.5, order: 4, load: mgSiBlackLoad, unload: mgSiBlackUnload, rest: mgSiBlackRest}
    ]
});

makeChart('c3', {
    label: 'Cu/PI', lined: false, top: 17.7, right: 7, yW: 96, xH: 64.7,
    xMin: -5, xMax: 65, yMin: -0.02, yMax: 0.16, yDec: 2,
    xTicks: cuPiXTicks, yTicks: cuPiYTicks, xTitlePad: 0,
    yX: 37.5, yY: 199, ySize: 25.5,
    series: [
        {color: DKGREEN, style: 'star', r: 2.4, bw: 1.4, order: 0, load: cuPiGreenLoad, hold: cuPiGreenHold, unload: cuPiGreenUnload, rest: cuPiGreenRest},
        {color: '#ff00ff', style: 'triangle', rot: 180, r: 2.3, bw: 0.5, order: 1, load: cuPiMagentaLoad, hold: cuPiMagentaHold, unload: cuPiMagentaUnload, rest: cuPiMagentaRest},
        {color: '#0000ff', style: 'triangle', r: 2.3, bw: 0.5, order: 2, load: cuPiBlueLoad, hold: cuPiBlueHold, unload: cuPiBlueUnload, rest: cuPiBlueRest},
        {color: '#ff0000', style: 'circle', r: 2, bw: 0.5, order: 3, load: cuPiRedLoad, hold: cuPiRedHold, unload: cuPiRedUnload, rest: cuPiRedRest},
        {color: '#000000', style: 'rect', r: 1.8, bw: 0.5, order: 4, load: cuPiBlackLoad, hold: cuPiBlackHold, unload: cuPiBlackUnload, rest: cuPiBlackRest}
    ]
});

makeChart('c4', {
    label: 'MG/PI', lined: false, top: 17, right: 10.3, yW: 92.3, xH: 64.7,
    xMin: -5, xMax: 60, yMin: -0.025, yMax: 0.225, yDec: 2,
    xTicks: mgPiXTicks, yTicks: mgPiYTicks, xTitlePad: 1.6,
    yX: 34, yY: 198, ySize: 25.5,
    series: [
        {color: '#ff00ff', style: 'triangle', rot: 180, r: 2.3, bw: 0.5, order: 0, load: mgPiMagentaLoad, hold: mgPiMagentaHold, unload: mgPiMagentaUnload, rest: mgPiMagentaRest},
        {color: DKGREEN, style: 'star', r: 2.4, bw: 1.4, order: 1, load: mgPiGreenLoad, hold: mgPiGreenHold, unload: mgPiGreenUnload, rest: mgPiGreenRest},
        {color: '#ff0000', style: 'circle', r: 2, bw: 0.5, order: 2, load: mgPiRedLoad, hold: mgPiRedHold, unload: mgPiRedUnload, rest: mgPiRedRest},
        {color: '#000000', style: 'rect', r: 1.8, bw: 0.5, order: 3, load: mgPiBlackLoad, hold: mgPiBlackHold, unload: mgPiBlackUnload, rest: mgPiBlackRest},
        {color: '#0000ff', style: 'triangle', r: 2.3, bw: 0.5, order: 4, load: mgPiBlueLoad, hold: mgPiBlueHold, unload: mgPiBlueUnload, rest: mgPiBlueRest}
    ]
});
</script>
</body>
</html>
